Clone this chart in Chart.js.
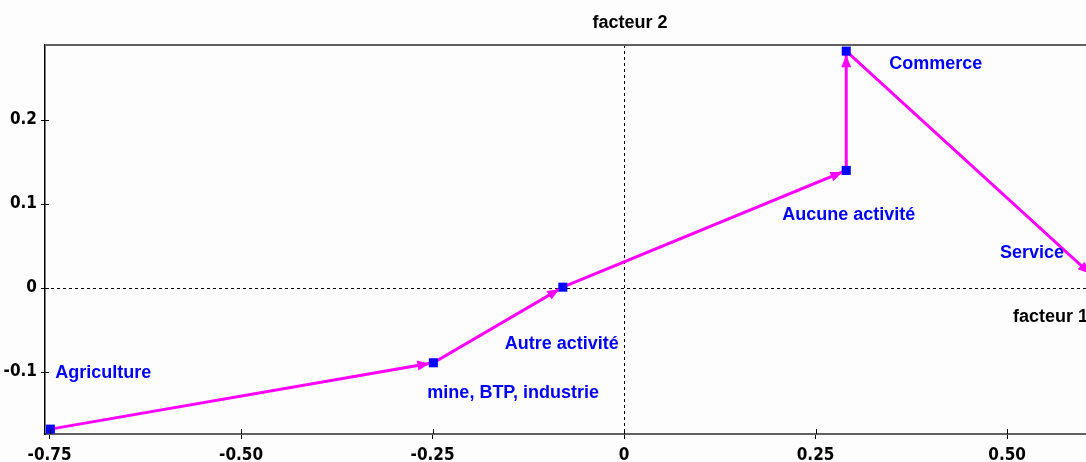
<!DOCTYPE html>
<html>
<head>
<meta charset="utf-8">
<script src="https://cdn.jsdelivr.net/npm/chart.js@4/dist/chart.umd.min.js"></script>
<style>
  html, body { margin: 0; padding: 0; background: #fdfdfd; }
  #wrap { width: 1086px; height: 462px; position: relative; }
</style>
</head>
<body>
<div id="wrap"><canvas id="c" width="1086" height="462"></canvas></div>
<script>
// ---- data ----
const categories = ['Agriculture', 'mine, BTP, industrie', 'Autre activité', 'Aucune activité', 'Commerce', 'Service'];
const factor1 = [-0.749, -0.249, -0.080, 0.290, 0.290, 0.612];
const factor2 = [-0.168, -0.089, 0.001, 0.140, 0.282, 0.014];
const xTicks = [-0.75, -0.50, -0.25, 0, 0.25, 0.50];
const yTicks = [-0.1, 0, 0.1, 0.2];
const xRange = [-0.756, 0.603];
const yRange = [-0.1738, 0.2893];
const xTitle = 'facteur 1';
const yTitle = 'facteur 2';

// ---- style ----
const labelOffsets = [[5, -56], [-6, 30], [-58, 57], [-64, 45], [43, 13], [-93, -23]];
const tickFamily = '"Liberation Sans Narrow", "DejaVu Sans Condensed", "Arial Narrow", sans-serif';
const textFont = 'bold 18px "Liberation Sans", Arial, sans-serif';
const magenta = '#ff00ff';
const blue = '#0000ff';

const points = factor1.map((x, i) => ({ x: x, y: factor2[i] }));

const decor = {
  id: 'decor',
  beforeDatasetsDraw(chart) {
    const { ctx, chartArea: a, scales: { x, y } } = chart;
    ctx.save();
    ctx.strokeStyle = '#000';
    ctx.lineWidth = 1;
    ctx.setLineDash([3, 3]);
    const x0 = Math.round(x.getPixelForValue(0)) + 0.5;
    const y0 = Math.round(y.getPixelForValue(0)) + 0.5;
    ctx.beginPath(); ctx.moveTo(x0, a.top); ctx.lineTo(x0, a.bottom); ctx.stroke();
    ctx.beginPath(); ctx.moveTo(a.left, y0); ctx.lineTo(a.right, y0); ctx.stroke();
    ctx.restore();
  },
  afterDatasetsDraw(chart) {
    const { ctx, chartArea: a, scales: { x, y } } = chart;
    ctx.save();
    // top border
    ctx.strokeStyle = '#606060';
    ctx.lineWidth = 2;
    ctx.beginPath(); ctx.moveTo(a.left, a.top); ctx.lineTo(a.right, a.top); ctx.stroke();
    // inner tick parts
    ctx.strokeStyle = '#000';
    ctx.lineWidth = 1;
    xTicks.forEach(v => {
      const px = Math.round(x.getPixelForValue(v)) + 0.5;
      ctx.beginPath(); ctx.moveTo(px, a.bottom); ctx.lineTo(px, a.bottom - 5); ctx.stroke();
    });
    yTicks.forEach(v => {
      const py = Math.round(y.getPixelForValue(v)) + 0.5;
      ctx.beginPath(); ctx.moveTo(a.left, py); ctx.lineTo(a.left + 4, py); ctx.stroke();
    });
    // arrowheads
    ctx.beginPath();
    ctx.rect(a.left - 2, a.top - 2, a.right - a.left + 4, a.bottom - a.top + 4);
    ctx.clip();
    ctx.fillStyle = magenta;
    for (let i = 1; i < points.length; i++) {
      const x1 = x.getPixelForValue(points[i - 1].x), y1 = y.getPixelForValue(points[i - 1].y);
      const x2 = x.getPixelForValue(points[i].x), y2 = y.getPixelForValue(points[i].y);
      const len = Math.hypot(x2 - x1, y2 - y1);
      const dx = (x2 - x1) / len, dy = (y2 - y1) / len;
      const tx = x2 - dx * 4, ty = y2 - dy * 4;
      const bx = tx - dx * 12, by = ty - dy * 12;
      ctx.beginPath();
      ctx.moveTo(tx, ty);
      ctx.lineTo(bx - dy * 5, by + dx * 5);
      ctx.lineTo(bx + dy * 5, by - dx * 5);
      ctx.closePath();
      ctx.fill();
    }
    ctx.restore();

    // labels
    ctx.save();
    ctx.font = textFont;
    ctx.fillStyle = blue;
    ctx.textAlign = 'left';
    ctx.textBaseline = 'middle';
    categories.forEach((c, i) => {
      const px = x.getPixelForValue(points[i].x) + labelOffsets[i][0];
      const py = y.getPixelForValue(points[i].y) + labelOffsets[i][1];
      ctx.fillText(c, px, py);
    });
    // axis titles
    ctx.fillStyle = '#000';
    ctx.textAlign = 'center';
    ctx.fillText(yTitle, x.getPixelForValue(0) + 6, 23);
    ctx.textAlign = 'left';
    ctx.fillText(xTitle, 1013, y.getPixelForValue(0) + 29);
    ctx.restore();
  }
};

new Chart(document.getElementById('c'), {
  type: 'scatter',
  data: {
    datasets: [{
      data: points,
      showLine: true,
      borderColor: magenta,
      borderWidth: 3,
      pointStyle: 'rect',
      pointRadius: 6.4,
      pointBackgroundColor: blue,
      pointBorderColor: blue,
      pointBorderWidth: 0
    }]
  },
  options: {
    responsive: false,
    animation: false,
    events: [],
    layout: { autoPadding: false, padding: { top: 45, right: 0, left: 0, bottom: 0 } },
    plugins: { legend: { display: false }, tooltip: { enabled: false } },
    scales: {
      x: {
        type: 'linear',
        min: xRange[0],
        max: xRange[1],
        afterBuildTicks: s => { s.ticks = xTicks.map(v => ({ value: v })); },
        afterFit: s => { s.height = 28; s.paddingLeft = 0; s.paddingRight = 0; },
        border: { color: '#606060', width: 2 },
        grid: { drawOnChartArea: false, color: '#000', tickLength: 5, tickWidth: 1 },
        ticks: {
          color: '#000',
          font: { family: tickFamily, size: 17, weight: 'bold' },
          padding: 6,
          maxRotation: 0,
          autoSkip: false,
          callback: v => v === 0 ? '0' : v.toFixed(2)
        }
      },
      y: {
        type: 'linear',
        min: yRange[0],
        max: yRange[1],
        afterBuildTicks: s => { s.ticks = yTicks.map(v => ({ value: v })); },
        afterFit: s => { s.width = 45; s.paddingTop = 0; s.paddingBottom = 0; },
        border: { color: '#000', width: 1.5 },
        grid: { drawOnChartArea: false, color: '#000', tickLength: 4, tickWidth: 1 },
        ticks: {
          color: '#000',
          font: { family: tickFamily, size: 17, weight: 'bold' },
          padding: 4,
          autoSkip: false,
          callback: v => v === 0 ? '0' : String(Math.round(v * 10) / 10)
        }
      }
    }
  },
  plugins: [decor]
});
</script>
</body>
</html>
